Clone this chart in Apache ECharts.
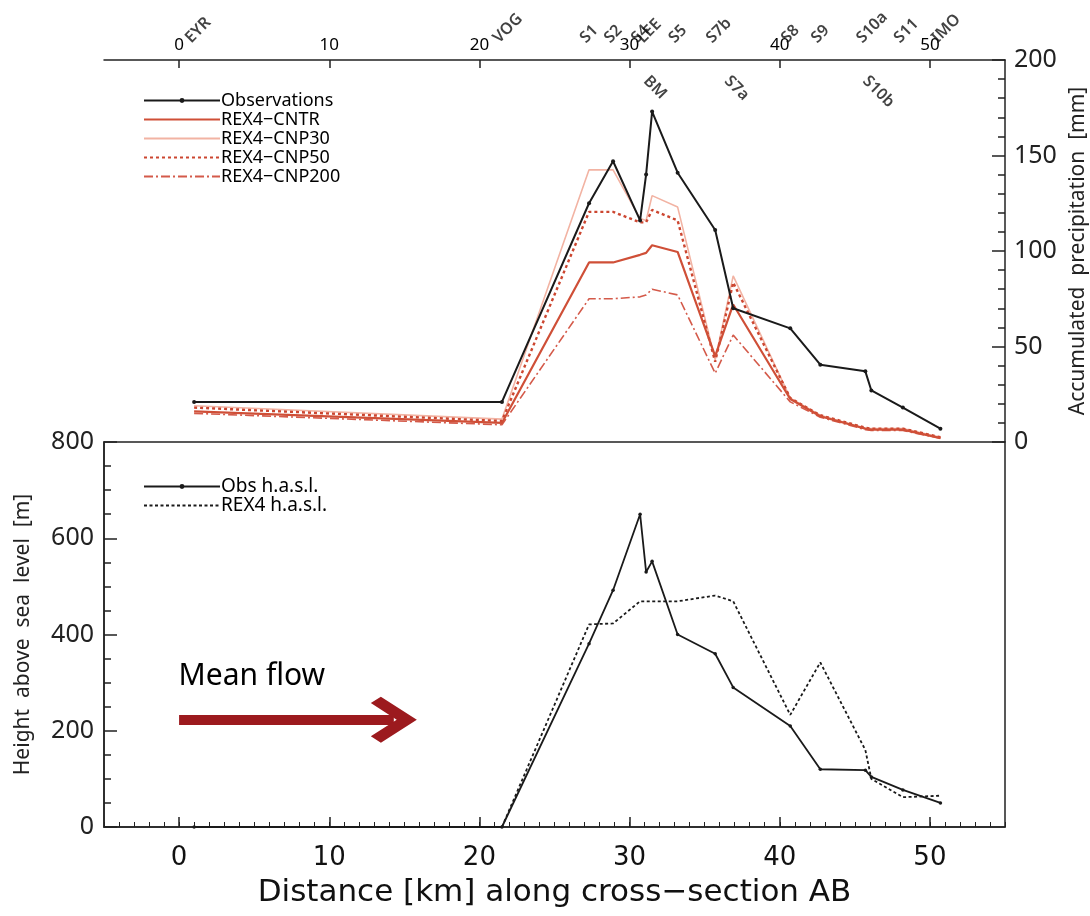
<!DOCTYPE html>
<html>
<head>
<meta charset="utf-8">
<script src="https://cdn.jsdelivr.net/npm/echarts@6/dist/echarts.min.js"></script>
<style>
html,body{margin:0;padding:0;background:#fff;}
#chart{width:1090px;height:916px;}
</style>
</head>
<body>
<div id="chart"></div>
<script>
// ---- data ----
const stations   = ['EYR','VOG','S1','S2','S4','LEE','BM','S5','S7b','S7a','S8','S9','S10a','S10b','S11','IMO'];
const stationKm  = [1.0, 21.5, 27.3, 28.9, 30.7, 31.1, 31.5, 33.2, 35.7, 36.9, 40.7, 42.7, 45.7, 46.1, 48.2, 50.7];
const labelsBelow = ['BM','S7a','S10b'];

const obsPrecip    = [21, 21, 125, 147, 116, 140, 173, 141, 111, 70, 59.5, 40.5, 37, 27, 18, 7];
const cntrPrecip   = [16, 10, 94, 94, 98, 99, 103, 99.5, 45, 72, 22.5, 13.5, 7, 6.5, 6.5, 2];
const cnp30Precip  = [19, 12, 142.5, 142.5, 117, 116, 129, 123, 43, 87, 23, 14, 7, 7, 7, 2.5];
const cnp50Precip  = [18, 11, 120.5, 120.5, 115, 115, 121.5, 116, 42, 83.5, 23, 14, 7.5, 7, 7, 2.5];
const cnp200Precip = [15, 9, 75, 75, 76, 77, 80, 77, 36, 56, 21, 13, 6.5, 6, 6, 2];

const obsHeight = [0, 0, 381, 492, 650, 530, 552, 400, 360, 290, 210, 120, 118, 104, 77, 50];
const rexHeight = [0, 0, 421, 423, 469, 469, 469, 469, 481, 469, 233, 342, 160, 100, 62, 65];

const xTickValues = [0, 10, 20, 30, 40, 50];
const meanFlowLabel = [0, 312];
const meanFlowArrow = [[0, 223], [14.3, 223]];

// ---- chart ----
const pairs = (xs, ys) => xs.map((x, i) => [x, ys[i]]);
const FONT = 'Noto Sans';
const RED = '#cf4f37';

const labelData = stations.map((s, i) => {
  const below = labelsBelow.indexOf(s) >= 0;
  return {
    value: [stationKm[i], below ? 193 : 207],
    name: s,
    label: below
      ? { rotate: -45, align: 'left', verticalAlign: 'top' }
      : { rotate: 45, align: 'left', verticalAlign: 'bottom' }
  };
});

const noDot = { itemStyle: { opacity: 0 } };

const option = {
  backgroundColor: '#fff',
  animation: false,
  textStyle: { fontFamily: FONT, color: '#000' },
  grid: [
    { left: 104, right: 85, top: 60, height: 382, show: false, outerBoundsMode: 'none', containLabel: false },
    { left: 104, right: 85, top: 442, height: 385, show: true, borderColor: '#222', borderWidth: 1.5, backgroundColor: 'transparent', outerBoundsMode: 'none', containLabel: false }
  ],
  legend: [
    {
      left: 138, top: 86, orient: 'vertical', itemGap: 0, itemWidth: 76, itemHeight: 6,
      textStyle: { fontSize: 18, lineHeight: 19, color: '#000', fontFamily: FONT, padding: [0, 0, 0, -4] },
      data: [
        { name: 'Observations' },
        Object.assign({ name: 'REX4\u2212CNTR' }, noDot),
        Object.assign({ name: 'REX4\u2212CNP30' }, noDot),
        Object.assign({ name: 'REX4\u2212CNP50' }, noDot),
        Object.assign({ name: 'REX4\u2212CNP200' }, noDot)
      ]
    },
    {
      left: 138, top: 472, orient: 'vertical', itemGap: 0, itemWidth: 76, itemHeight: 6,
      textStyle: { fontSize: 19, lineHeight: 19, color: '#000', fontFamily: FONT, padding: [0, 0, 0, -4] },
      data: [{ name: 'Obs h.a.s.l.' }, Object.assign({ name: 'REX4 h.a.s.l.' }, noDot)]
    }
  ],
  xAxis: [
    { // top panel, top axis
      gridIndex: 0, type: 'value', position: 'top', min: -5, max: 55,
      axisLine: { show: true, onZero: false, lineStyle: { color: '#222', width: 1.5 } },
      axisTick: { show: true, inside: true, length: 8, customValues: xTickValues, lineStyle: { color: '#222', width: 1.5 } },
      axisLabel: { show: true, customValues: xTickValues, fontSize: 17, margin: 6, color: '#000', fontFamily: FONT },
      splitLine: { show: false }
    },
    { // bottom panel, minor ticks
      gridIndex: 1, type: 'value', position: 'bottom', min: -5, max: 55, interval: 1,
      axisLine: { show: true, onZero: false, lineStyle: { color: '#222', width: 1.5 } },
      axisTick: { show: true, inside: true, length: 5, lineStyle: { color: '#222', width: 1 } },
      axisLabel: { show: false },
      splitLine: { show: false }
    },
    { // bottom panel, major ticks + labels
      gridIndex: 1, type: 'value', position: 'bottom', min: -5, max: 55,
      axisLine: { show: false, onZero: false },
      axisTick: { show: true, inside: true, length: 10, customValues: xTickValues, lineStyle: { color: '#222', width: 1.5 } },
      axisLabel: { show: true, customValues: xTickValues, fontSize: 26, margin: 18, color: '#111', fontFamily: 'DejaVu Sans' },
      splitLine: { show: false },
      name: 'Distance [km] along cross\u2212section AB', nameLocation: 'middle', nameGap: 50,
      nameTextStyle: { fontSize: 31, color: '#111', fontFamily: 'DejaVu Sans' }
    }
  ],
  yAxis: [
    {
      gridIndex: 0, type: 'value', position: 'right', min: 0, max: 200, interval: 50,
      axisLine: { show: true, onZero: false, lineStyle: { color: '#222', width: 1.5 } },
      axisTick: { show: true, inside: true, length: 13, lineStyle: { color: '#222', width: 1.5 } },
      minorTick: { show: true, splitNumber: 5, length: 7, lineStyle: { color: '#222', width: 1.5 } },
      axisLabel: { fontSize: 25, margin: 9, color: '#222', fontFamily: FONT },
      splitLine: { show: false },
      name: 'Accumulated  precipitation  [mm]', nameLocation: 'middle', nameRotate: 90, nameGap: 55,
      nameTextStyle: { fontSize: 21, color: '#222', fontFamily: FONT }
    },
    {
      gridIndex: 1, type: 'value', position: 'left', min: 0, max: 800, interval: 200,
      axisLine: { show: true, onZero: false, lineStyle: { color: '#222', width: 1.5 } },
      axisTick: { show: true, inside: true, length: 13, lineStyle: { color: '#222', width: 1.5 } },
      minorTick: { show: true, splitNumber: 4, length: 7, lineStyle: { color: '#222', width: 1.5 } },
      axisLabel: { fontSize: 25, margin: 10, color: '#222', fontFamily: FONT },
      splitLine: { show: false },
      name: 'Height  above  sea  level  [m]', nameLocation: 'middle', nameRotate: 90, nameGap: 70,
      nameTextStyle: { fontSize: 21, color: '#222', fontFamily: FONT }
    }
  ],
  series: [
    {
      name: 'REX4\u2212CNP30', type: 'line', xAxisIndex: 0, yAxisIndex: 0,
      data: pairs(stationKm, cnp30Precip), symbol: 'none',
      lineStyle: { color: '#f2b3a3', width: 1.6 }, itemStyle: { color: '#f2b3a3' }, z: 2
    },
    {
      name: 'REX4\u2212CNP200', type: 'line', xAxisIndex: 0, yAxisIndex: 0,
      data: pairs(stationKm, cnp200Precip), symbol: 'none',
      lineStyle: { color: '#d45a4a', width: 1.6, type: [9, 3, 2, 3] }, itemStyle: { color: '#d45a4a' }, z: 3
    },
    {
      name: 'REX4\u2212CNP50', type: 'line', xAxisIndex: 0, yAxisIndex: 0,
      data: pairs(stationKm, cnp50Precip), symbol: 'none',
      lineStyle: { color: '#cc4630', width: 2.4, type: [3, 3] }, itemStyle: { color: '#cc4630' }, z: 4
    },
    {
      name: 'REX4\u2212CNTR', type: 'line', xAxisIndex: 0, yAxisIndex: 0,
      data: pairs(stationKm, cntrPrecip), symbol: 'none',
      lineStyle: { color: RED, width: 2.2 }, itemStyle: { color: RED }, z: 5
    },
    {
      name: 'Observations', type: 'line', xAxisIndex: 0, yAxisIndex: 0,
      data: pairs(stationKm, obsPrecip), symbol: 'circle', symbolSize: 4, showSymbol: true,
      lineStyle: { color: '#1a1a1a', width: 2 }, itemStyle: { color: '#1a1a1a' }, z: 6
    },
    {
      name: 'stationLabels', type: 'scatter', xAxisIndex: 0, yAxisIndex: 0,
      data: labelData, symbolSize: 1, clip: false, silent: true,
      itemStyle: { color: 'rgba(0,0,0,0)' },
      label: {
        show: true, position: [0, 0], formatter: p => p.name,
        fontSize: 16, fontWeight: 600, color: '#111', fontFamily: FONT
      },
      z: 7
    },
    {
      name: 'REX4 h.a.s.l.', type: 'line', xAxisIndex: 1, yAxisIndex: 1,
      data: pairs(stationKm, rexHeight), symbol: 'none',
      lineStyle: { color: '#1a1a1a', width: 1.8, type: [3, 2.5] }, itemStyle: { color: '#1a1a1a' }, z: 3
    },
    {
      name: 'Obs h.a.s.l.', type: 'line', xAxisIndex: 1, yAxisIndex: 1,
      data: pairs(stationKm, obsHeight), symbol: 'circle', symbolSize: 3.5, showSymbol: true,
      lineStyle: { color: '#1a1a1a', width: 1.8 }, itemStyle: { color: '#1a1a1a' }, z: 4
    },
    {
      name: 'meanFlow', type: 'scatter', xAxisIndex: 1, yAxisIndex: 1,
      data: [meanFlowLabel], symbolSize: 1, silent: true,
      itemStyle: { color: 'rgba(0,0,0,0)' },
      label: { show: true, position: [0, 0], align: 'left', verticalAlign: 'middle', formatter: 'Mean flow', fontSize: 30, color: '#000', opacity: 1, fontFamily: FONT },
      markLine: {
        silent: true, animation: false,
        symbol: ['none', 'path://M50,0 L100,50 L86,64 L50,28 L14,64 L0,50 Z'],
        symbolSize: [46, 46],
        label: { show: false },
        lineStyle: { color: '#9c1a1e', width: 10, type: 'solid' },
        data: [[{ coord: meanFlowArrow[0] }, { coord: meanFlowArrow[1] }]]
      },
      z: 5
    }
  ]
};

const chart = echarts.init(document.getElementById('chart'), null, { renderer: 'canvas' });
chart.setOption(option);
</script>
</body>
</html>
